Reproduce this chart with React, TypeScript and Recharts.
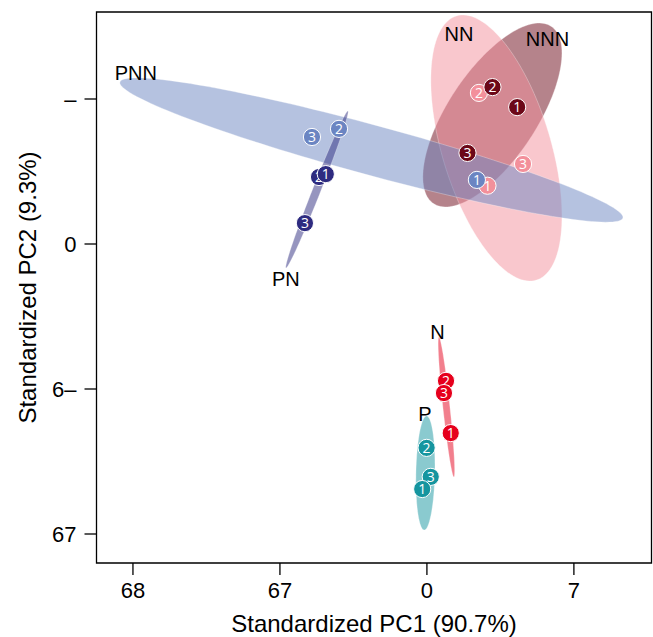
import React from 'react';
import { ScatterChart, Scatter, XAxis, YAxis, ReferenceArea } from 'recharts';

// ---- axes ----
const xTicks = [-10, -5, 0, 5];
const xTickLabels = ['68', '67', '0', '7'];
const yTicks = [5, 0, -5, -10];
const yTickLabels = ['–', '0', '6–', '67'];
const xDomain = [-11.24, 7.64];
const yDomain = [-11, 8];
const xTitle = 'Standardized PC1 (90.7%)';
const yTitle = 'Standardized PC2 (9.3%)';

// ---- colours ----
const colNN = '#f3909b';
const colNNN = '#6c0818';
const colPNN = '#6b85c2';
const colPN = '#2e2b80';
const colN = '#e6001c';
const colP = '#15959f';

// ---- ellipses: [centre, vertex (major axis end), co-vertex (minor axis end)] ----
const ellNNN = [{ x: 2.228, y: 4.448 }, { x: 4.231, y: 7.503 }, { x: 3.486, y: 3.6 }];
const ellNN = [{ x: 2.364, y: 3.31 }, { x: 3.721, y: -1.245 }, { x: 0.595, y: 2.769 }];
const ellPNN = [{ x: -1.888, y: 3.241 }, { x: 6.667, y: 0.897 }, { x: -2.109, y: 2.41 }];
const ellPN = [{ x: -3.741, y: 1.879 }, { x: -2.687, y: 4.586 }, { x: -3.61, y: 1.826 }];
const ellN = [{ x: 0.663, y: -5.621 }, { x: 0.408, y: -3.207 }, { x: 0.782, y: -5.607 }];
const ellP = [{ x: -0.051, y: -7.897 }, { x: -0.01, y: -5.931 }, { x: 0.272, y: -7.903 }];

// ---- replicate points ----
const ptsNN = [{ x: 2.06, y: 2.01, n: 1 }, { x: 1.77, y: 5.21, n: 2 }, { x: 3.27, y: 2.76, n: 3 }];
const ptsNNN = [{ x: 3.07, y: 4.72, n: 1 }, { x: 2.23, y: 5.41, n: 2 }, { x: 1.38, y: 3.14, n: 3 }];
const ptsPNN = [{ x: 1.7, y: 2.21, n: 1 }, { x: -2.99, y: 3.97, n: 2 }, { x: -3.91, y: 3.69, n: 3 }];
const ptsPN = [{ x: -4.15, y: 0.72, n: 3 }, { x: -3.67, y: 2.31, n: 2 }, { x: -3.44, y: 2.41, n: 1 }];
const ptsN = [{ x: 0.81, y: -6.52, n: 1 }, { x: 0.65, y: -4.72, n: 2 }, { x: 0.58, y: -5.14, n: 3 }];
const ptsP = [{ x: -0.01, y: -7.03, n: 2 }, { x: 0.13, y: -8.03, n: 3 }, { x: -0.16, y: -8.45, n: 1 }];

// ---- group labels ----
const groupLabels = [
  { x: -9.9, y: 5.9, text: 'PNN' },
  { x: 1.09, y: 7.24, text: 'NN' },
  { x: 4.1, y: 7.08, text: 'NNN' },
  { x: -4.8, y: -1.21, text: 'PN' },
  { x: 0.36, y: -3.03, text: 'N' },
  { x: -0.07, y: -5.84, text: 'P' },
];

const FONT = '"Liberation Sans", Arial, Helvetica, sans-serif';

const makeEllipse = (fill: string) => (props: any) => {
  const pts = (props && props.points) || [];
  if (pts.length < 3) return <g />;
  const P = pts.map((p: any) => ({ x: p.x ?? p.cx, y: p.y ?? p.cy }));
  const c = P[0], v = P[1], w = P[2];
  const ux = v.x - c.x, uy = v.y - c.y, vx = w.x - c.x, vy = w.y - c.y;
  const N = 144;
  let d = '';
  for (let i = 0; i <= N; i++) {
    const t = (2 * Math.PI * i) / N;
    const px = c.x + ux * Math.cos(t) + vx * Math.sin(t);
    const py = c.y + uy * Math.cos(t) + vy * Math.sin(t);
    d += (i === 0 ? 'M' : 'L') + px.toFixed(2) + ',' + py.toFixed(2);
  }
  d += 'Z';
  return <path d={d} fill={fill} fillOpacity={0.5} stroke="#ffffff" strokeOpacity={0.5} strokeWidth={0.6} />;
};

const noShape = () => <g />;

const makeDot = (fill: string) => (props: any) => {
  const { cx, cy, payload } = props;
  if (cx == null || cy == null) return <g />;
  return (
    <g>
      <circle cx={cx} cy={cy} r={8.6} fill={fill} stroke="#ffffff" strokeWidth={1} />
      <text x={cx} y={cy} dy="0.36em" textAnchor="middle" fill="#ffffff" fontSize={14} fontFamily='"Open Sans", "Noto Sans", sans-serif'>
        {payload.n}
      </text>
    </g>
  );
};

const labelShape = (props: any) => {
  const { cx, cy, payload } = props;
  if (cx == null || cy == null) return <g />;
  return (
    <text x={cx} y={cy} dy="0.36em" textAnchor="middle" fill="#000" fontSize={20} fontFamily={FONT}>
      {payload.text}
    </text>
  );
};

const XTitle = (props: any) => {
  const vb = props.viewBox || { x: 96.5, y: 563, width: 555, height: 74 };
  return (
    <text x={vb.x + vb.width / 2} y={vb.y + vb.height - 5} textAnchor="middle" fill="#000" fontSize={24} fontFamily={FONT}>
      {xTitle}
    </text>
  );
};

const YTitle = (props: any) => {
  const vb = props.viewBox || { x: 0, y: 12, width: 96.5, height: 551 };
  const x = vb.x + 35.5;
  const y = vb.y + vb.height / 2;
  return (
    <text x={x} y={y} transform={`rotate(-90, ${x}, ${y})`} textAnchor="middle" fill="#000" fontSize={24} fontFamily={FONT}>
      {yTitle}
    </text>
  );
};

const ellipses = [
  { data: ellNNN, color: colNNN },
  { data: ellNN, color: colNN },
  { data: ellPNN, color: colPNN },
  { data: ellPN, color: colPN },
  { data: ellN, color: colN },
  { data: ellP, color: colP },
];

const pointSets = [
  { data: ptsNN, color: colNN },
  { data: ptsNNN, color: colNNN },
  { data: ptsPNN, color: colPNN },
  { data: ptsPN, color: colPN },
  { data: ptsN, color: colN },
  { data: ptsP, color: colP },
];

export default function App() {
  return (
    <div style={{ position: 'absolute', left: 0, top: 0 }}>
      <ScatterChart width={653} height={637} margin={{ top: 12, right: 1.5, bottom: 0, left: 0 }}>
        <XAxis
          type="number"
          dataKey="x"
          domain={xDomain}
          allowDataOverflow
          ticks={xTicks}
          tickFormatter={(v: number) => xTickLabels[xTicks.indexOf(v)] ?? ''}
          height={74}
          axisLine={false}
          tickLine={{ stroke: '#000', strokeWidth: 1.3 }}
          tickSize={12}
          tickMargin={7}
          tick={{ fill: '#000', fontSize: 22, fontFamily: FONT }}
          interval={0}
          label={<XTitle />}
        />
        <YAxis
          type="number"
          dataKey="y"
          domain={yDomain}
          allowDataOverflow
          ticks={yTicks}
          tickFormatter={(v: number) => yTickLabels[yTicks.indexOf(v)] ?? ''}
          width={96.5}
          axisLine={false}
          tickLine={{ stroke: '#000', strokeWidth: 1.3 }}
          tickSize={12}
          tickMargin={8}
          tick={{ fill: '#000', fontSize: 22, fontFamily: FONT }}
          interval={0}
          label={<YTitle />}
        />
        {ellipses.map((e, i) => (
          <Scatter
            key={'e' + i}
            data={e.data}
            fill={e.color}
            shape={noShape}
            line={makeEllipse(e.color)}
            lineType="joint"
            isAnimationActive={false}
          />
        ))}
        {pointSets.map((p, i) => (
          <Scatter key={'p' + i} data={p.data} fill={p.color} shape={makeDot(p.color)} isAnimationActive={false} />
        ))}
        <Scatter data={groupLabels} fill="#000" shape={labelShape} isAnimationActive={false} />
        <ReferenceArea
          x1={xDomain[0]}
          x2={xDomain[1]}
          y1={yDomain[0]}
          y2={yDomain[1]}
          fill="none"
          fillOpacity={0}
          stroke="#000"
          strokeWidth={1.3}
          ifOverflow="visible"
        />
      </ScatterChart>
    </div>
  );
}
